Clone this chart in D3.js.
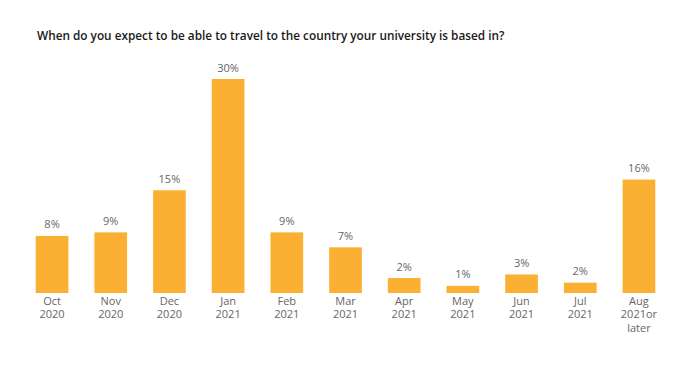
<!DOCTYPE html>
<html>
<head>
<meta charset="utf-8">
<script src="https://cdn.jsdelivr.net/npm/d3@7"></script>
<style>
  body { margin: 0; background: #fff; }
  text { font-family: "Open Sans", sans-serif; }
</style>
</head>
<body>
<svg id="chart" width="689" height="374"></svg>
<script>
// categories, each label split in lines
var months = ["Oct 2020", "Nov 2020", "Dec 2020", "Jan 2021", "Feb 2021", "Mar 2021",
              "Apr 2021", "May 2021", "Jun 2021", "Jul 2021", "Aug 2021or later"];
var monthLines = [["Oct", "2020"], ["Nov", "2020"], ["Dec", "2020"], ["Jan", "2021"],
                  ["Feb", "2021"], ["Mar", "2021"], ["Apr", "2021"], ["May", "2021"],
                  ["Jun", "2021"], ["Jul", "2021"], ["Aug", "2021or", "later"]];
// share of respondents (%), as drawn
var shares = [8.0, 8.5, 14.4, 30.0, 8.5, 6.4, 2.1, 1.0, 2.6, 1.45, 15.9];
var shareLabels = ["8%", "9%", "15%", "30%", "9%", "7%", "2%", "1%", "3%", "2%", "16%"];

var title = "When do you expect to be able to travel to the country your university is based in?";

var svg = d3.select("#chart");

svg.append("text")
  .attr("x", 37)
  .attr("y", 40)
  .attr("font-size", "11.8px")
  .attr("font-weight", 600)
  .attr("fill", "#1a1a1a")
  .text(title);

var baseline = 293;

var xScale = d3.scaleBand()
  .domain(months)
  .range([22.7, 668.3])
  .paddingInner(0.443)
  .paddingOuter(0.2215);

var yScale = d3.scaleLinear()
  .domain([0, 30])
  .range([baseline, 79]);

var bars = svg.append("g");

bars.selectAll("rect")
  .data(shares)
  .enter()
  .append("rect")
  .attr("x", function(d, i) { return xScale(months[i]); })
  .attr("y", function(d) { return yScale(d); })
  .attr("width", xScale.bandwidth())
  .attr("height", function(d) { return baseline - yScale(d); })
  .attr("fill", "#fbb034");

// value labels above bars
bars.selectAll("text.value")
  .data(shares)
  .enter()
  .append("text")
  .attr("class", "value")
  .attr("x", function(d, i) { return xScale(months[i]) + xScale.bandwidth() / 2; })
  .attr("y", function(d) { return yScale(d) - 7.5; })
  .attr("text-anchor", "middle")
  .attr("font-size", "11px")
  .attr("fill", "#666")
  .text(function(d, i) { return shareLabels[i]; });

// category labels under bars
var cats = svg.append("g");

cats.selectAll("text")
  .data(monthLines)
  .enter()
  .append("text")
  .attr("x", function(d, i) { return xScale(months[i]) + xScale.bandwidth() / 2; })
  .attr("y", baseline + 11.5)
  .attr("text-anchor", "middle")
  .attr("font-size", "11px")
  .attr("fill", "#666")
  .each(function(d) {
    var t = d3.select(this);
    var x = t.attr("x");
    d.forEach(function(line, j) {
      t.append("tspan")
        .attr("x", x)
        .attr("dy", j === 0 ? 0 : 13.7)
        .text(line);
    });
  });
</script>
</body>
</html>
